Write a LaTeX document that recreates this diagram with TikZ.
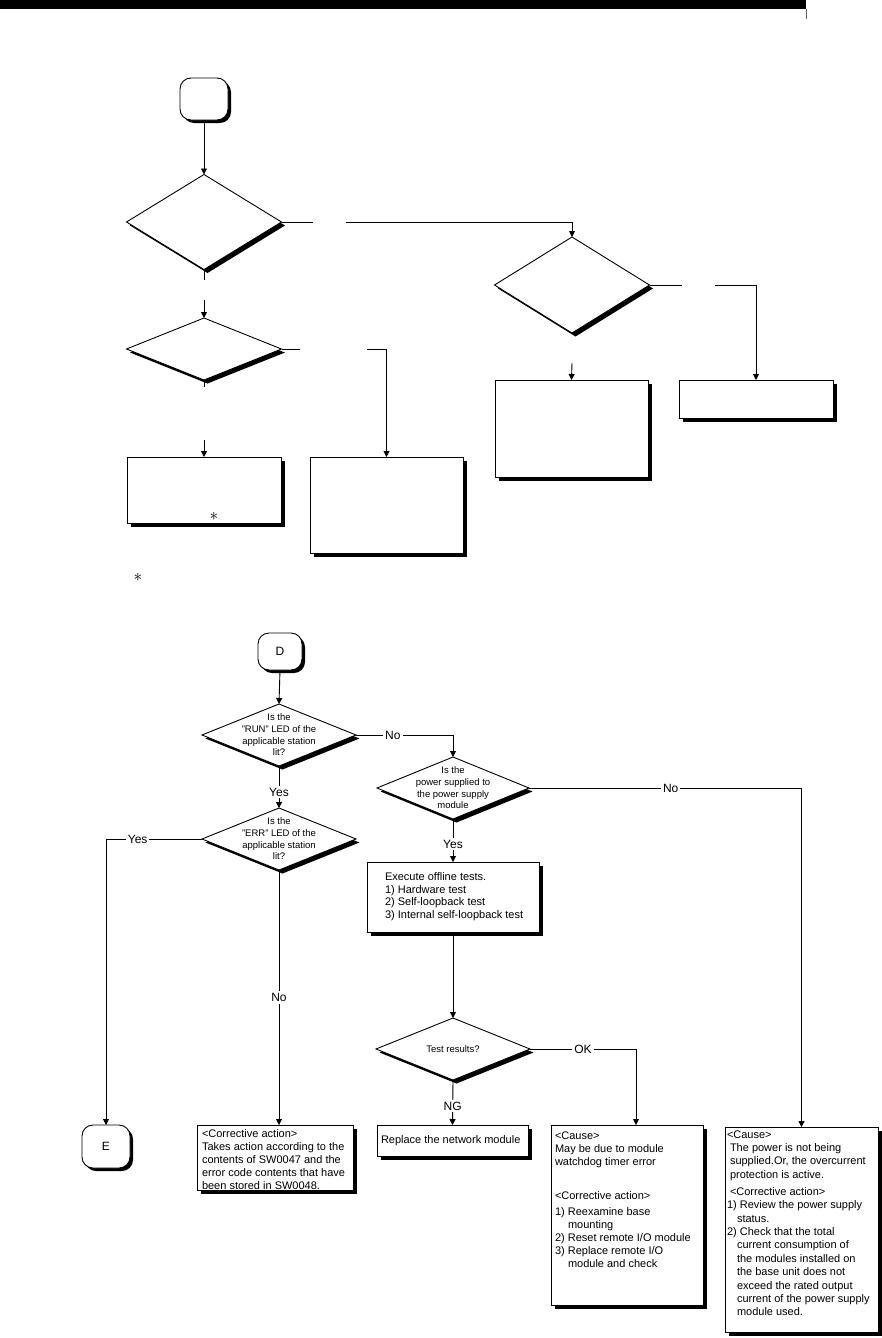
\documentclass[tikz,border=0pt]{standalone}
\usepackage{fontspec}
\setmainfont{Liberation Sans}
\usetikzlibrary{shapes.geometric,arrows.meta}
\newcommand\bxfont{\fontsize{11}{13}\selectfont}
\newcommand\dmfont{\fontsize{9.5}{11.7}\selectfont}
\newcommand\lbfont{\fontsize{12}{14}\selectfont}
\begin{document}
\begin{tikzpicture}[x=1pt,y=-1pt,
  line width=0.9pt,
  every node/.style={inner sep=0pt,outer sep=0pt},
  shad/.style={preaction={fill=black,draw=none,transform canvas={xshift=#1,yshift=-#1}}},
  shad/.default=4pt,
  boxn/.style={draw=black,fill=white,line width=0.9pt,anchor=north west,shad},
  dia/.style={shape=diamond,draw=black,fill=white,line width=0.9pt,shad=3.5pt},
  term/.style={rectangle,rounded corners=11pt,draw=black,fill=white,line width=0.9pt,shad=3pt},
  arr/.style={-{Triangle[length=6pt,width=6pt]}},
  dtxt/.style={font=\dmfont,align=center},
  btxt/.style={font=\bxfont,align=left,anchor=north west},
  lbl/.style={font=\lbfont,fill=white,inner sep=2pt},
  astn/.style={font=\fontsize{17}{17}\selectfont},
]
\useasboundingbox (0,0) rectangle (882,1338);
\fill[white] (0,0) rectangle (882,1338);
% header
\fill[black] (0,0) rectangle (806,9);
\draw[line width=0.6pt,black!60] (806,9) -- (806,19);

% ---------- upper (empty) chart ----------
\node[term,minimum width=48pt,minimum height=42pt] (t0) at (204,99) {};
\node[dia,minimum width=155pt,minimum height=95pt] (d1) at (204,222) {};
\node[dia,minimum width=155pt,minimum height=62pt] (d3) at (204,349) {};
\node[dia,minimum width=155pt,minimum height=96pt] (d2) at (572,285) {};
\node[boxn,minimum width=153pt,minimum height=97pt] (bA) at (495,380) {};
\node[boxn,minimum width=154pt,minimum height=38pt] (bB) at (679,380) {};
\node[boxn,minimum width=154pt,minimum height=66pt] (bC) at (127,457) {};
\node[boxn,minimum width=153pt,minimum height=96pt] (bD) at (310,457) {};
\node[astn] (ast1) at (214,516) {$\ast$};
\node[astn] (ast2) at (138,577) {$\ast$};

\coordinate (g1a) at (313,222); \coordinate (g1b) at (346,222);
\coordinate (g2a) at (204,280); \coordinate (g2b) at (204,300);
\coordinate (g3a) at (300,349); \coordinate (g3b) at (367,349);
\coordinate (g4a) at (204,387); \coordinate (g4b) at (204,440);
\coordinate (g5a) at (682,285); \coordinate (g5b) at (715,285);
\coordinate (g6) at (572,363);

\draw[arr] (t0.south) -- (d1.north);
\draw (d1.east) -- (g1a);
\draw[arr] (g1b) -| (d2.north);
\draw (d1.south) -- (g2a);
\draw[arr] (g2b) -- (d3.north);
\draw (d3.east) -- (g3a);
\draw[arr] (g3b) -| (bD.north);
\draw (d3.south) -- (g4a);
\draw[arr] (g4b) -- (bC.north);
\draw (d2.east) -- (g5a);
\draw[arr] (g5b) -| (bB.north);
\draw[arr] (g6) -- (bA.north);

% ---------- lower chart ----------
\node[term,minimum width=44pt,minimum height=37pt,font=\fontsize{12}{14}\selectfont] (D) at (280,651.5) {D};
\node[dia,minimum width=154pt,minimum height=62pt] (run) at (279,735) {};
\node[dtxt] (runT) at (run.center) {Is the\\"RUN" LED of the\\applicable station\\lit?};
\node[dia,minimum width=152pt,minimum height=62pt] (pow) at (453,788) {};
\node[dtxt] (powT) at (pow.center) {Is the\\power supplied to\\the power supply\\module};
\node[dia,minimum width=154pt,minimum height=62pt] (err) at (279,839) {};
\node[dtxt] (errT) at (err.center) {Is the\\"ERR" LED of the\\applicable station\\lit?};
\node[dia,minimum width=154pt,minimum height=62pt] (tst) at (453,1049) {};
\node[dtxt] (tstT) at (tst.center) {Test results?};

\node[boxn,minimum width=172pt,minimum height=70pt] (exe) at (367,862) {};
\node[btxt,font=\fontsize{11}{12.7}\selectfont] (exeT) at (385,872.5) {Execute offline tests.\\1) Hardware test\\2) Self-loopback test\\3) Internal self-loopback test};

\node[boxn,minimum width=151pt,minimum height=31pt] (rep) at (377,1125) {};
\node[font=\bxfont,anchor=west] (repT) at (381,1141) {Replace the network module};

\node[boxn,minimum width=152pt,minimum height=180pt] (c1) at (551,1125) {};
\node[btxt] (c1T) at (555,1131.5) {<Cause>\\May be due to module\\watchdog timer error\\[21pt]<Corrective action>\\[3pt]1) Reexamine base\\\hspace*{13pt}mounting\\2) Reset remote I/O module\\3) Replace remote I/O\\\hspace*{13pt}module and check};

\node[boxn,minimum width=153pt,minimum height=205pt] (c2) at (725,1127) {};
\node[btxt,font=\fontsize{11}{13.4}\selectfont] (c2T) at (727,1130.5) {<Cause>\\\hspace*{3pt}The power is not being\\\hspace*{3pt}supplied.Or, the overcurrent\\\hspace*{3pt}protection is active.\\[3.6pt]\hspace*{3pt}<Corrective action>\\1) Review the power supply\\\hspace*{10pt}status.\\2) Check that the total\\\hspace*{10pt}current consumption of\\\hspace*{10pt}the modules installed on\\\hspace*{10pt}the base unit does not\\\hspace*{10pt}exceed the rated output\\\hspace*{10pt}current of the power supply\\\hspace*{10pt}module used.};

\node[boxn,minimum width=156pt,minimum height=65pt] (cor) at (197,1125) {};
\node[btxt] (corT) at (202,1129.5) {<Corrective action>\\Takes action according to the\\contents of SW0047 and the\\error code contents that have\\been stored in SW0048.};

\node[term,minimum width=48pt,minimum height=43pt,font=\fontsize{12}{14}\selectfont] (E) at (106,1146.5) {E};

\coordinate (okc) at (636,1049);

\draw[arr] (D.south) -- (run.north);
\draw[arr] (run.south) -- node[lbl,pos=0.62] (lY1) {Yes} (err.north);
\draw[arr] (run.east) -| node[lbl,pos=0.19] (lN1) {No} (pow.north);
\draw[arr] (pow.east) -| node[lbl,pos=0.26] (lN2) {No} (c2.north);
\draw[arr] (pow.south) -- node[lbl,pos=0.58] (lY2) {Yes} (pow.south |- exe.north);
\draw[arr] (exe.south) -- (tst.north);
\draw[arr] (tst.east) -- node[lbl] (lOK) {OK} (okc) -- (okc |- c1.north);
\draw[arr] (tst.south) -- node[lbl,pos=0.58] (lNG) {NG} (rep.north);
\draw[arr] (err.west) -| node[lbl,pos=0.335] (lY3) {Yes} (E.north);
\draw[arr] (err.south) -- node[lbl] (lN3) {No} (err.south |- cor.north);
\end{tikzpicture}
\end{document}
